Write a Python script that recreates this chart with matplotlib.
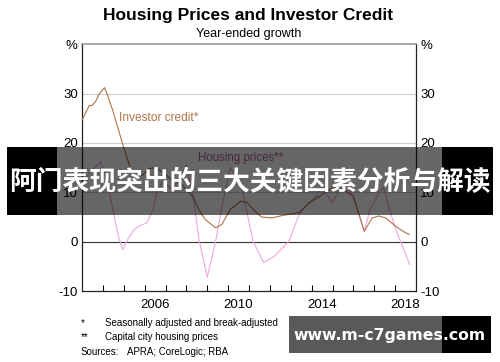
import matplotlib
matplotlib.use("Agg")
import matplotlib.pyplot as plt
from matplotlib.patches import Rectangle

# investor credit, year-ended growth (%)
credit_x = [2003.0, 2003.2, 2003.35, 2003.5, 2003.68, 2003.84, 2004.08, 2004.23, 2004.47,
            2004.8, 2005.03, 2005.35, 2005.6, 2005.9, 2006.2, 2006.5, 2006.9, 2007.3,
            2007.7, 2008.0, 2008.3, 2008.6, 2008.9, 2009.4, 2009.7, 2010.1, 2010.6,
            2010.9, 2011.2, 2011.6, 2012.1, 2012.6, 2013.0, 2013.4, 2013.9, 2014.4,
            2014.7, 2015.1, 2015.5, 2016.0, 2016.52, 2016.9, 2017.23, 2017.55, 2018.03,
            2018.5, 2018.67]
credit_y = [24.6, 26.3, 27.6, 27.6, 28.6, 30.0, 31.2, 29.6, 26.6,
            21.9, 18.6, 14.5, 13.0, 13.5, 14.8, 15.0, 14.0, 12.5,
            12.0, 10.5, 9.2, 6.5, 4.5, 2.8, 3.5, 6.5, 8.2,
            8.0, 6.5, 5.0, 4.8, 5.3, 5.6, 5.9, 7.9, 9.2,
            10.2, 11.0, 10.6, 9.2, 2.1, 4.8, 5.2, 4.8, 3.1,
            1.8, 1.5]

# capital city housing prices, year-ended growth (%)
house_x = [2003.1, 2003.5, 2003.9, 2004.2, 2004.5, 2004.75, 2004.95, 2005.2, 2005.5,
           2005.8, 2006.1, 2006.4, 2006.6, 2006.9, 2007.3, 2007.7, 2008.0, 2008.3,
           2008.6, 2009.0, 2009.4, 2009.7, 2010.1, 2010.4, 2010.7, 2011.2, 2011.7,
           2012.2, 2012.9, 2013.4, 2013.73, 2014.2, 2014.5, 2015.0, 2015.5, 2016.0,
           2016.52, 2016.8, 2017.23, 2017.45, 2017.63, 2018.03, 2018.4, 2018.7]
house_y = [12.5, 14.5, 16.2, 12.5, 6.0, 1.0, -1.6, 0.5, 2.5,
           3.3, 3.8, 6.5, 9.9, 12.5, 10.5, 13.0, 15.5, 10.0,
           0.5, -7.2, 0.0, 7.0, 15.0, 13.0, 9.9, 0.0, -4.2,
           -3.0, 0.0, 5.5, 7.2, 9.2, 11.0, 7.8, 12.0, 9.2,
           2.1, 6.5, 9.9, 11.0, 7.8, 2.5, -1.5, -4.6]

y_ticks = [-10, 0, 10, 20, 30]
year_labels = [2006, 2010, 2014, 2018]
notes = [("*", "Seasonally adjusted and break-adjusted"),
         ("**", "Capital city housing prices"),
         ("Sources:", "APRA; CoreLogic; RBA")]

plt.rcParams['font.family'] = ['Liberation Sans', 'DejaVu Sans']

fig = plt.figure(figsize=(5.0, 3.62), dpi=100)
ax = fig.add_axes([0.164, 0.196, 0.668, 0.682])

credit_col = '#b07448'
house_col = '#eaa8df'

for v in [10, 20, 30]:
    ax.axhline(v, color='#cccccc', lw=0.8, zorder=1)
ax.axhline(0, color='#333333', lw=0.8, zorder=1)

ax.plot(house_x, house_y, color=house_col, lw=0.8, zorder=2)
ax.plot(credit_x, credit_y, color=credit_col, lw=0.8, zorder=3)

ax.text(2004.75, 25, 'Investor credit*', color=credit_col, fontsize=8.6, va='center')
ax.text(2008.55, 17, 'Housing prices**', color='#b0609a', fontsize=8.3, va='center')

ax.set_xlim(2003, 2019)
ax.set_ylim(-10, 40)

ax.set_xticks(range(2004, 2019))
ax.set_xticklabels([])
ax.set_xticks([y + 0.5 for y in year_labels], minor=True)
ax.set_xticklabels([str(y) for y in year_labels], minor=True, fontsize=9.5)
ax.tick_params(axis='x', which='major', direction='in', length=4, width=0.8)
ax.tick_params(axis='x', which='minor', length=0, pad=6)

ax.set_yticks(y_ticks + [40])
ax.set_yticklabels([str(v) for v in y_ticks] + ['%'], fontsize=9.5)
ax.tick_params(axis='y', length=0, pad=3, labelleft=True, labelright=True)

for s in ['left', 'right', 'bottom']:
    ax.spines[s].set_color('#222222')
    ax.spines[s].set_linewidth(0.9)
ax.spines['top'].set_color('#999999')
ax.spines['top'].set_linewidth(1.2)

fig.text(0.496, 0.958, 'Housing Prices and Investor Credit', ha='center', va='center',
         fontsize=12.5, fontweight='bold')
fig.text(0.497, 0.906, 'Year-ended growth', ha='center', va='center', fontsize=9)

for i, (mark, txt) in enumerate(notes):
    yy = 1 - (323.3 + 14.2 * i) / 362
    fig.text(81 / 500, yy, mark, fontsize=7, va='center')
    xx = 105 if i < 2 else 126.7
    fig.text(xx / 500, yy, txt, fontsize=7, va='center')

# overlay banners (pixel coordinates)
ov = fig.add_axes([0, 0, 1, 1])
ov.set_xlim(0, 500)
ov.set_ylim(362, 0)
ov.axis('off')
ov.add_patch(Rectangle((7, 147), 50, 68, color='black', lw=0))
ov.add_patch(Rectangle((442, 147), 51, 68, color='black', lw=0))
ov.add_patch(Rectangle((57, 147), 385, 68, color='black', alpha=0.6, lw=0))
ov.text(250, 182, '阿门表现突出的三大关键因素分析与解读', color='white', fontsize=19.3,
        fontweight='heavy', ha='center', va='center',
        family=['Noto Sans CJK SC', 'DejaVu Sans'])

ov.add_patch(Rectangle((289, 316), 153, 37, color='black', alpha=0.65, lw=0))
ov.add_patch(Rectangle((442, 316), 49, 37, color='black', lw=0))
ov.text(389, 335.5, 'www.m-c7games.com', color='white', fontsize=11.3,
        fontweight='bold', ha='center', va='center', family=['DejaVu Sans'])

fig.savefig('out.png', dpi=100)
